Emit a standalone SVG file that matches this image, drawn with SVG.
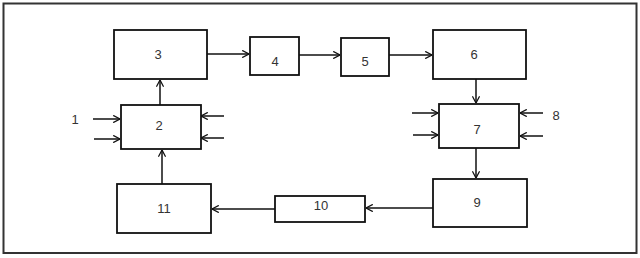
<svg xmlns="http://www.w3.org/2000/svg" width="640" height="258" viewBox="0 0 640 258">
<style>
.box{fill:#fff;stroke:#111;stroke-width:1.8}
.c{stroke:#111;stroke-width:1.5;fill:none;marker-end:url(#ah)}
text{font-family:"Liberation Sans",Arial,sans-serif;font-size:13px;fill:#333;text-anchor:middle;dominant-baseline:central}
</style>
<defs>
<marker id="ah" viewBox="0 0 10 10" refX="9.5" refY="5" markerWidth="8" markerHeight="8" markerUnits="userSpaceOnUse" orient="auto">
<path d="M1,0.5 L9.5,5 L1,9.5" fill="none" stroke="#111" stroke-width="1.6"/>
</marker>
</defs>
<rect x="0" y="0" width="640" height="258" fill="#fff"/>
<rect x="3.5" y="3.5" width="633" height="249.5" fill="none" stroke="#333" stroke-width="2"/>
<g id="connectors">
<line class="c" x1="160" y1="105" x2="160" y2="80"/>
<line class="c" x1="207" y1="54" x2="249" y2="54"/>
<line class="c" x1="299" y1="55" x2="340" y2="55"/>
<line class="c" x1="389" y1="55" x2="432" y2="55"/>
<line class="c" x1="476" y1="79" x2="476" y2="103"/>
<line class="c" x1="476" y1="148" x2="476" y2="178"/>
<line class="c" x1="433" y1="208" x2="366" y2="208"/>
<line class="c" x1="275" y1="209" x2="212" y2="209"/>
<line class="c" x1="162" y1="184" x2="162" y2="150"/>
<line class="c" x1="93" y1="119" x2="120" y2="119"/>
<line class="c" x1="94" y1="139" x2="120" y2="139"/>
<line class="c" x1="224" y1="116" x2="201" y2="116"/>
<line class="c" x1="224" y1="138" x2="201" y2="138"/>
<line class="c" x1="412" y1="113" x2="438" y2="113"/>
<line class="c" x1="413" y1="135" x2="438" y2="135"/>
<line class="c" x1="543" y1="113" x2="520" y2="113"/>
<line class="c" x1="543" y1="136" x2="520" y2="136"/>
</g>
<g id="n3"><rect class="box" x="114" y="30" width="93" height="49"/><text x="158" y="54">3</text></g>
<g id="n4"><rect class="box" x="250" y="37" width="49" height="38"/><text x="275" y="61">4</text></g>
<g id="n5"><rect class="box" x="341" y="38" width="48" height="38"/><text x="365" y="61">5</text></g>
<g id="n6"><rect class="box" x="433" y="30" width="93" height="49"/><text x="474" y="54">6</text></g>
<g id="n2"><rect class="box" x="121" y="105" width="80" height="44"/><text x="159" y="125">2</text></g>
<g id="n7"><rect class="box" x="439" y="104" width="80" height="44"/><text x="477" y="129">7</text></g>
<g id="n9"><rect class="box" x="433" y="179" width="94" height="48"/><text x="477" y="202">9</text></g>
<g id="n10"><rect class="box" x="275" y="196" width="90" height="26"/><text x="321" y="205">10</text></g>
<g id="n11"><rect class="box" x="117" y="184" width="94" height="49"/><text x="164" y="208">11</text></g>
<g id="l1"><text x="75" y="119">1</text></g>
<g id="l8"><text x="556" y="115">8</text></g>
</svg>
